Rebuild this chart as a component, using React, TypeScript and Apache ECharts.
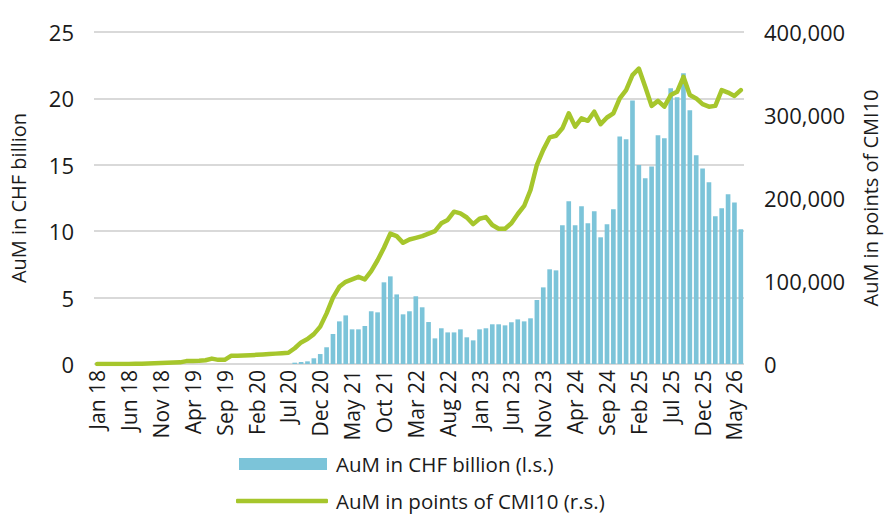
import React, { useEffect, useRef } from "react";
import * as echarts from "echarts";

const MONTHS = ["Jan", "Feb", "Mar", "Apr", "May", "Jun", "Jul", "Aug", "Sep", "Oct", "Nov", "Dec"];
const categories: string[] = [];
for (let y = 18; y <= 26; y++) {
  for (let m = 0; m < 12; m++) {
    if (y === 26 && m > 5) break;
    categories.push(`${MONTHS[m]} ${y}`);
  }
}

const aumChf: (number | null)[] = [
  null, null, null, null, null, null, null, null, null, null,
  null, null, null, null, null, null, null, null, null, null,
  null, null, null, null, null, null, null, null, null, null,
  null, 0.1, 0.15, 0.2, 0.43, 0.75, 1.26, 2.26, 3.21, 3.66,
  2.61, 2.61, 2.86, 3.97, 3.89, 6.15, 6.6, 5.24, 3.74, 3.97,
  5.1, 4.27, 3.16, 1.93, 2.69, 2.38, 2.38, 2.61, 2.01, 1.78,
  2.61, 2.69, 2.99, 2.99, 2.91, 3.14, 3.36, 3.21, 3.44, 4.82,
  5.77, 7.13, 7.05, 10.44, 12.25, 10.44, 11.87, 10.59, 11.5, 9.54,
  10.52, 11.65, 17.14, 16.92, 19.85, 14.98, 13.98, 14.88, 17.22, 16.99,
  20.76, 20.08, 21.89, 19.1, 15.71, 14.73, 13.68, 11.12, 11.72, 12.78,
  12.17, 10.14,
];

const aumPoints: number[] = [
  0, 0, 0, 0, 0, 0, 200, 400, 600, 900,
  1200, 1500, 1700, 2000, 3500, 3700, 3800, 4500, 6500, 5000,
  5000, 9800, 10000, 10300, 10600, 11000, 11500, 12000, 12500, 13000,
  13500, 19000, 26000, 30000, 36000, 45000, 61000, 80000, 93000, 99000,
  102000, 105000, 102000, 112000, 125000, 140000, 157000, 154000, 146000, 150000,
  152000, 154000, 157000, 160000, 169500, 173500, 183500, 181500, 176500, 168500,
  175000, 177000, 167500, 163000, 163000, 169500, 180700, 190400, 209600, 240000,
  258000, 273000, 275000, 284000, 302000, 286000, 296000, 293000, 304000, 289000,
  297000, 302000, 320000, 330000, 348000, 356000, 334000, 311000, 317000, 310000,
  324000, 328000, 346000, 324000, 320000, 313000, 310000, 311000, 330000, 327000,
  323000, 330000,
];

const leftTicks = { min: 0, max: 25, interval: 5 };
const rightTicks = { min: 0, max: 400000, interval: 100000 };
const seriesNames = ["AuM in CHF billion (l.s.)", "AuM in points of CMI10 (r.s.)"];
const axisNames = ["AuM in CHF billion", "AuM in points of CMI10"];

const FONT = "'Open Sans', 'Noto Sans', sans-serif";
const TEXT = "#1a1a1a";
const BLUE = "#7cc4d9";
const GREEN = "#a6c62c";

export default function App() {
  const ref = useRef<HTMLDivElement>(null);
  useEffect(() => {
    if (!ref.current) return;
    const chart = echarts.init(ref.current, undefined, { renderer: "svg" });
    const legendText = { fontFamily: FONT, fontSize: 20.5, color: TEXT, lineHeight: 22 };
    chart.setOption({
      animation: false,
      backgroundColor: "#ffffff",
      textStyle: { fontFamily: FONT },
      grid: { left: 92, right: 144, top: 32, bottom: 156, containLabel: false },
      legend: [
        {
          left: 239,
          top: 453,
          padding: 0,
          itemWidth: 88,
          itemHeight: 12,
          textStyle: { ...legendText, padding: [0, 0, 0, 4] },
          data: [{ name: seriesNames[0], icon: "rect" }],
        },
        {
          left: 236,
          top: 490,
          padding: 0,
          itemWidth: 92,
          itemHeight: 4.5,
          textStyle: { ...legendText, padding: [0, 0, 0, 3] },
          data: [{ name: seriesNames[1], icon: "roundRect", itemStyle: { color: GREEN } }],
        },
      ],
      xAxis: {
        type: "category",
        data: categories,
        boundaryGap: true,
        axisLine: { show: false },
        axisTick: { show: false },
        axisLabel: {
          interval: 4,
          rotate: 90,
          margin: 6,
          fontSize: 21,
          color: TEXT,
          fontFamily: FONT,
        },
      },
      yAxis: [
        {
          type: "value",
          ...leftTicks,
          name: axisNames[0],
          nameLocation: "middle",
          nameGap: 66,
          nameTextStyle: { fontSize: 20, color: TEXT, fontFamily: FONT },
          axisLine: { show: false },
          axisTick: { show: false },
          axisLabel: { margin: 20, fontSize: 22, color: TEXT, fontFamily: FONT },
          splitLine: { lineStyle: { color: "#d9d9d9", width: 2 } },
        },
        {
          type: "value",
          ...rightTicks,
          name: axisNames[1],
          nameLocation: "middle",
          nameGap: 116,
          nameTextStyle: { fontSize: 20, color: TEXT, fontFamily: FONT },
          axisLine: { show: false },
          axisTick: { show: false },
          axisLabel: {
            margin: 20,
            fontSize: 22,
            color: TEXT,
            fontFamily: FONT,
            formatter: (v: number) => v.toLocaleString("en-US"),
          },
          splitLine: { show: false },
        },
      ],
      series: [
        {
          name: seriesNames[0],
          type: "bar",
          data: aumChf,
          yAxisIndex: 0,
          barCategoryGap: "27%",
          itemStyle: { color: BLUE },
        },
        {
          name: seriesNames[1],
          type: "line",
          data: aumPoints,
          yAxisIndex: 1,
          symbol: "none",
          smooth: false,
          lineStyle: { color: GREEN, width: 4.5, cap: "round", join: "round" },
          itemStyle: { color: GREEN },
        },
      ],
    });
    return () => chart.dispose();
  }, []);
  return (
    <div
      ref={ref}
      style={{ position: "fixed", left: 0, top: 0, width: 888, height: 520, background: "#fff" }}
    />
  );
}
